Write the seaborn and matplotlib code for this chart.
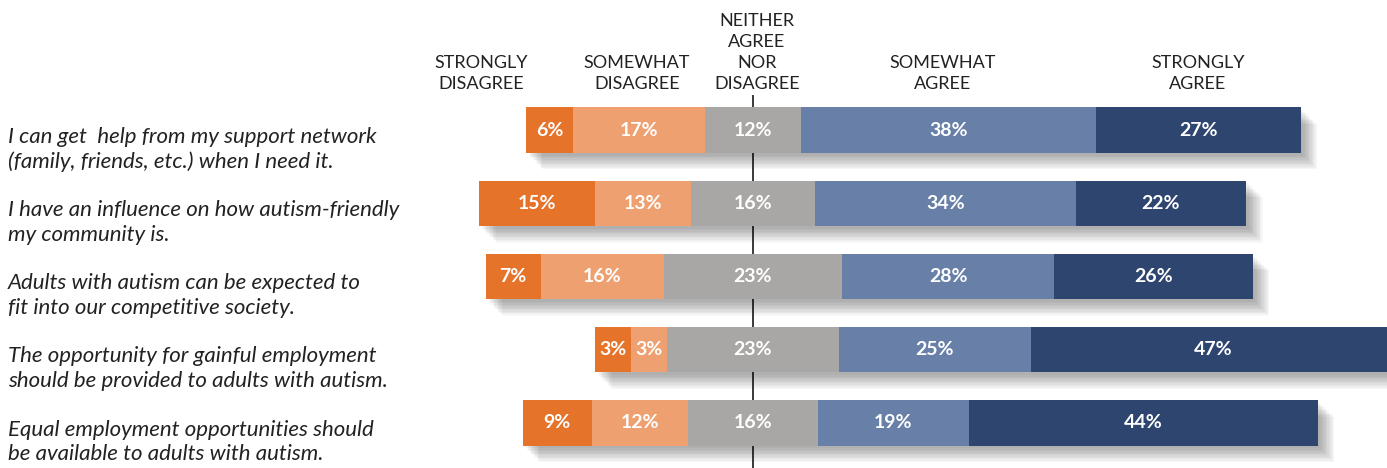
import numpy as np
import pandas as pd
import matplotlib
matplotlib.use('Agg')
import matplotlib.pyplot as plt
import matplotlib.patheffects as pe
import seaborn as sns

# 資料
statements = [
    'I can get  help from my support network\n(family, friends, etc.) when I need it.',
    'I have an influence on how autism-friendly\nmy community is.',
    'Adults with autism can be expected to\nfit into our competitive society.',
    'The opportunity for gainful employment\nshould be provided to adults with autism.',
    'Equal employment opportunities should\nbe available to adults with autism.',
]
categories = ['STRONGLY\nDISAGREE', 'SOMEWHAT\nDISAGREE', 'NEITHER\nAGREE\nNOR\nDISAGREE',
              'SOMEWHAT\nAGREE', 'STRONGLY\nAGREE']
# 標示的百分比
strongly_disagree = [6, 15, 7, 3, 9]
somewhat_disagree = [17, 13, 16, 3, 12]
neutral = [12, 16, 23, 23, 16]
somewhat_agree = [38, 34, 28, 25, 19]
strongly_agree = [27, 22, 26, 47, 44]
# 圖上量到的長條寬度 (%)
bar_sd = [6.1, 15.0, 7.1, 4.6, 8.9]
bar_swd = [17.1, 12.4, 15.9, 4.7, 12.5]
bar_n = [12.3, 16.0, 23.1, 22.2, 16.7]
bar_swa = [38.2, 33.7, 27.4, 24.8, 19.5]
bar_sa = [26.4, 22.0, 25.6, 47.0, 45.1]
colors = ['#E5732A', '#EFA070', '#A9A7A6', '#6880A8', '#2E4570']

sns.set_style('white')
plt.rcParams['font.family'] = ['Lato', 'DejaVu Sans']

df = pd.DataFrame({
    'statement': statements,
    'sd': bar_sd,
    'swd': bar_swd,
    'n': bar_n,
    'swa': bar_swa,
    'sa': bar_sa,
})
labels = {'sd': strongly_disagree, 'swd': somewhat_disagree, 'n': neutral,
          'swa': somewhat_agree, 'sa': strongly_agree}

# 以中立的中心為0 計算左右端點
df['half'] = df['n'] / 2
df['right_sa'] = df['half'] + df['swa'] + df['sa']
df['right_swa'] = df['half'] + df['swa']
df['right_n'] = df['half']
df['left_sd'] = -(df['half'] + df['swd'] + df['sd'])
df['left_swd'] = -(df['half'] + df['swd'])
df['left_n'] = -df['half']

W, H = 1387, 468
fig = plt.figure(figsize=(W / 100, H / 100), dpi=100)
ax = fig.add_axes([0, 0, 1, (H - 95) / H])

ax.axvline(0, color='#2b2b2b', lw=1.3, zorder=1)

shadow = [pe.SimplePatchShadow(offset=(k, -k), shadow_rgbFace='#000000', alpha=0.03)
          for k in range(2, 13)] + [pe.Normal()]

layers = [('right_sa', colors[4], True), ('left_sd', colors[0], True),
          ('right_swa', colors[3], False), ('left_swd', colors[1], False),
          ('right_n', colors[2], False), ('left_n', colors[2], False)]
for col, c, shad in layers:
    before = len(ax.patches)
    sns.barplot(data=df, x=col, y='statement', color=c, saturation=1, width=0.62,
                errorbar=None, orient='h', ax=ax, linewidth=0)
    for p in ax.patches[before:]:
        p.set_zorder(2)
        if shad:
            p.set_path_effects(shadow)

# seaborn 會重設範圍, 畫完再設定
px = 7.74  # 每 % 的像素
ax.set_xlim(-753 / px, (W - 753) / px)
ax.set_ylim(4 + (H - 423) / 73, -(130 - 95) / 73)

# 百分比標籤
centers = {
    'sd': df['left_sd'] + df['sd'] / 2,
    'swd': df['left_swd'] + df['swd'] / 2,
    'n': 0 * df['n'],
    'swa': df['right_n'] + df['swa'] / 2,
    'sa': df['right_swa'] + df['sa'] / 2,
}
for key in ['sd', 'swd', 'n', 'swa', 'sa']:
    for i in range(len(df)):
        ax.text(centers[key][i], i, f"{labels[key][i]}%", ha='center', va='center',
                color='white', fontsize=14, fontweight='bold', zorder=5)

# 左側敘述
for i, s in enumerate(statements):
    ax.text(8 / W, i + 0.26, s, transform=ax.get_yaxis_transform(), ha='left', va='center',
            fontsize=16, fontstyle='italic', color='#222222', linespacing=1.28)

# 上方類別標題
header_x = [481, 637, 757, 943, 1198]
for hx, cat in zip(header_x, categories):
    fig.text(hx / W, 1 - 92 / H, cat, ha='center', va='bottom', fontsize=13,
             color='#222222', linespacing=1.38)

ax.set_xlabel('')
ax.set_ylabel('')
ax.set_xticks([])
ax.set_yticks([])
for s in ax.spines.values():
    s.set_visible(False)

fig.savefig('out.png', dpi=100)
